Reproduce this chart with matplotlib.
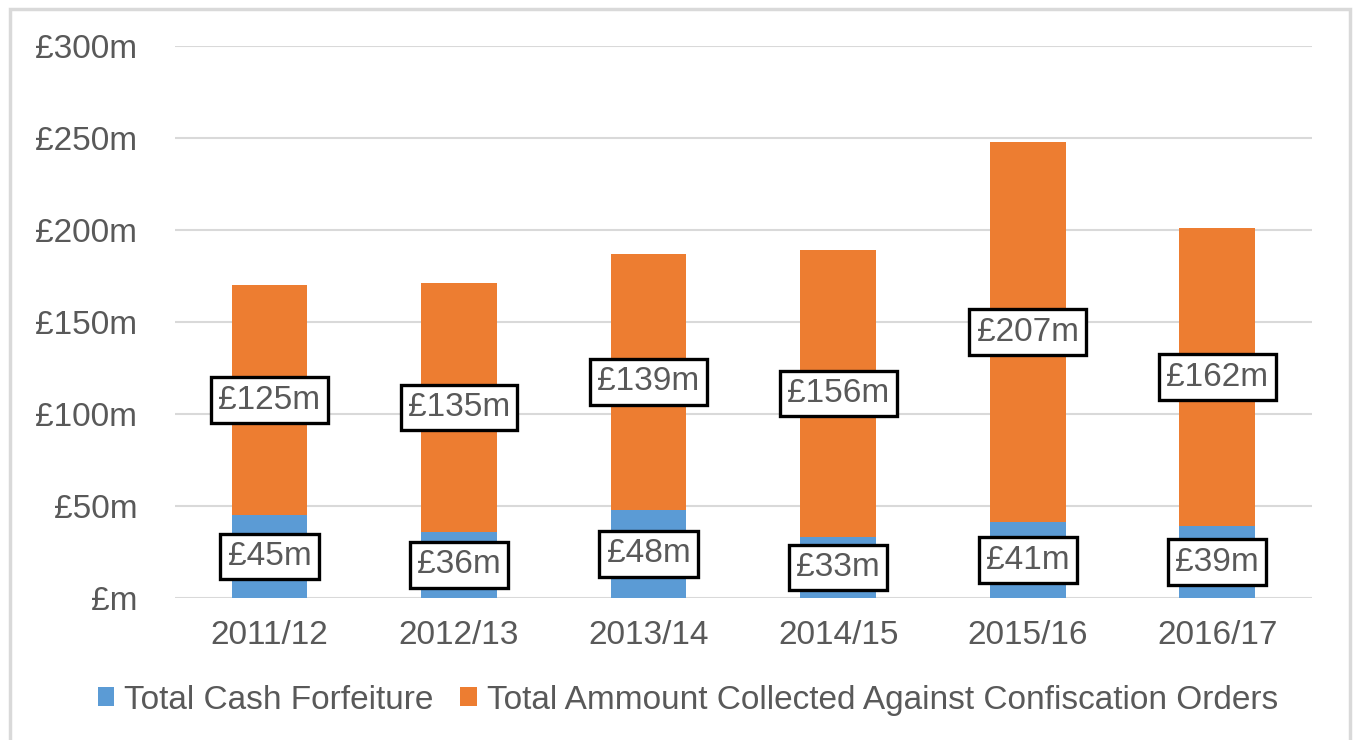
import matplotlib
matplotlib.use("Agg")
import matplotlib.pyplot as plt
from matplotlib.patches import Rectangle

plt.rcParams["font.family"] = ["Liberation Sans", "DejaVu Sans"]

years = ["2011/12", "2012/13", "2013/14", "2014/15", "2015/16", "2016/17"]
cash_forfeiture = [45, 36, 48, 33, 41, 39]
confiscation = [125, 135, 139, 156, 207, 162]
yticks = [0, 50, 100, 150, 200, 250, 300]

BLUE = "#5B9BD5"
ORANGE = "#ED7D31"
TEXT = "#595959"
GRID = "#D9D9D9"

fig = plt.figure(figsize=(13.54, 7.40), dpi=100)
ax = fig.add_axes([0.129, 0.192, 0.840, 0.746])

x = range(len(years))
ax.bar(x, cash_forfeiture, width=0.4, color=BLUE, label="Total Cash Forfeiture", zorder=3)
ax.bar(x, confiscation, width=0.4, bottom=cash_forfeiture, color=ORANGE,
       label="Total Ammount Collected Against Confiscation Orders", zorder=3)

box = dict(boxstyle="square,pad=0.22", fc="white", ec="black", lw=2.4)
for i, (c, o) in enumerate(zip(cash_forfeiture, confiscation)):
    ax.text(i, c / 2, f"£{c}m", ha="center", va="center", fontsize=24,
            color=TEXT, bbox=box, zorder=5)
    ax.text(i, c + o / 2, f"£{o}m", ha="center", va="center", fontsize=24,
            color=TEXT, bbox=box, zorder=5)

ax.set_xlim(-0.5, len(years) - 0.5)
ax.set_ylim(0, 300)
ax.set_yticks(yticks)
ax.set_yticklabels([f"£{v}m" if v else "£m" for v in yticks])
ax.set_xticks(list(x))
ax.set_xticklabels(years)
ax.tick_params(axis="both", length=0, labelsize=24, labelcolor=TEXT)
ax.tick_params(axis="y", pad=27)
ax.tick_params(axis="x", pad=16)
ax.yaxis.grid(True, color=GRID, lw=1.5, zorder=0)
for s in ax.spines.values():
    s.set_visible(False)

leg = fig.legend(loc="center", bbox_to_anchor=(0.508, 0.054), ncol=2, frameon=False,
                 fontsize=24, handlelength=0.5, handleheight=0.5, handletextpad=0.3,
                 columnspacing=0.8)
for t in leg.get_texts():
    t.set_color(TEXT)

fig.patches.append(Rectangle((10 / 1354, -0.05), 1340 / 1354, 1.05 - 9 / 740,
                             transform=fig.transFigure, fill=False,
                             ec=GRID, lw=2.5))

fig.savefig("out.png", dpi=100)
